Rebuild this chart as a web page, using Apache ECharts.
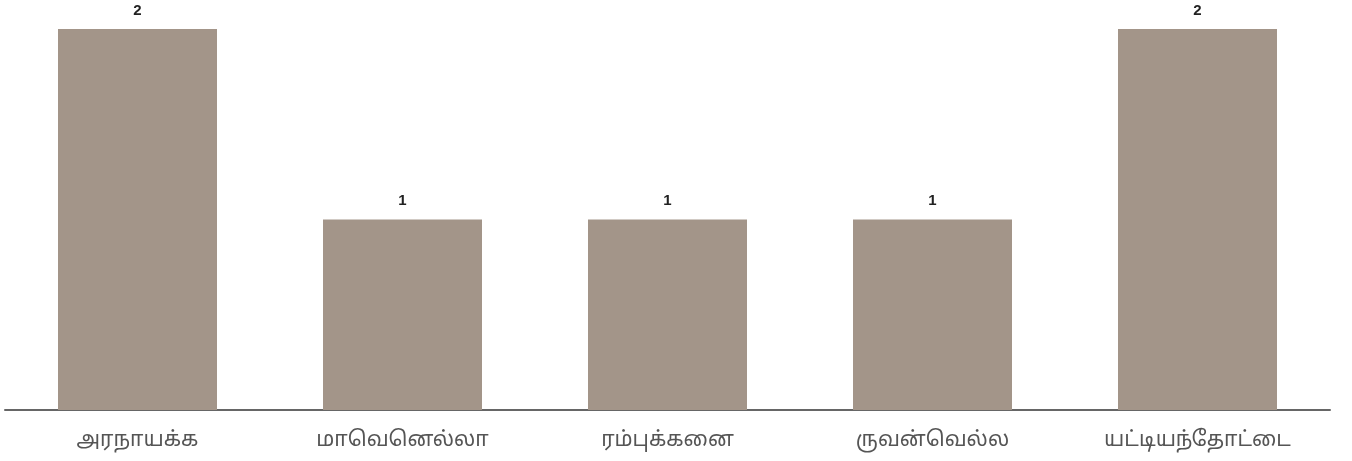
<!DOCTYPE html>
<html>
<head>
<meta charset="utf-8">
<script src="https://cdn.jsdelivr.net/npm/echarts@6/dist/echarts.min.js"></script>
<style>html,body{margin:0;padding:0;background:#fff;}#c{width:1352px;height:461px;}</style>
</head>
<body>
<div id="c"></div>
<script>
const categories = ['அரநாயக்க', 'மாவெனெல்லா', 'ரம்புக்கனை', 'ருவன்வெல்ல', 'யட்டியந்தோட்டை'];
const values = [2, 1, 1, 1, 2];

const chart = echarts.init(document.getElementById('c'), null, {renderer: 'canvas'});
chart.setOption({
  animation: false,
  grid: {left: 5, right: 22, top: 29, bottom: 51, containLabel: false},
  xAxis: {
    type: 'category',
    data: categories,
    axisLine: {show: true, lineStyle: {color: '#666', width: 2}},
    axisTick: {show: false},
    axisLabel: {interval: 0, color: '#555', fontSize: 21, margin: 21, fontFamily: '"Noto Sans Tamil", "Noto Sans", Arial, sans-serif'}
  },
  yAxis: {
    type: 'value', min: 0, max: 2, interval: 1,
    show: false, splitLine: {show: false}
  },
  series: [{
    type: 'bar',
    data: values,
    barWidth: '60%',
    itemStyle: {color: '#a39589'},
    label: {
      show: true, position: 'top', distance: 11,
      color: '#222', fontSize: 15, fontWeight: 'bold',
      fontFamily: 'Liberation Sans, Arial, sans-serif'
    }
  }]
});
</script>
</body>
</html>
